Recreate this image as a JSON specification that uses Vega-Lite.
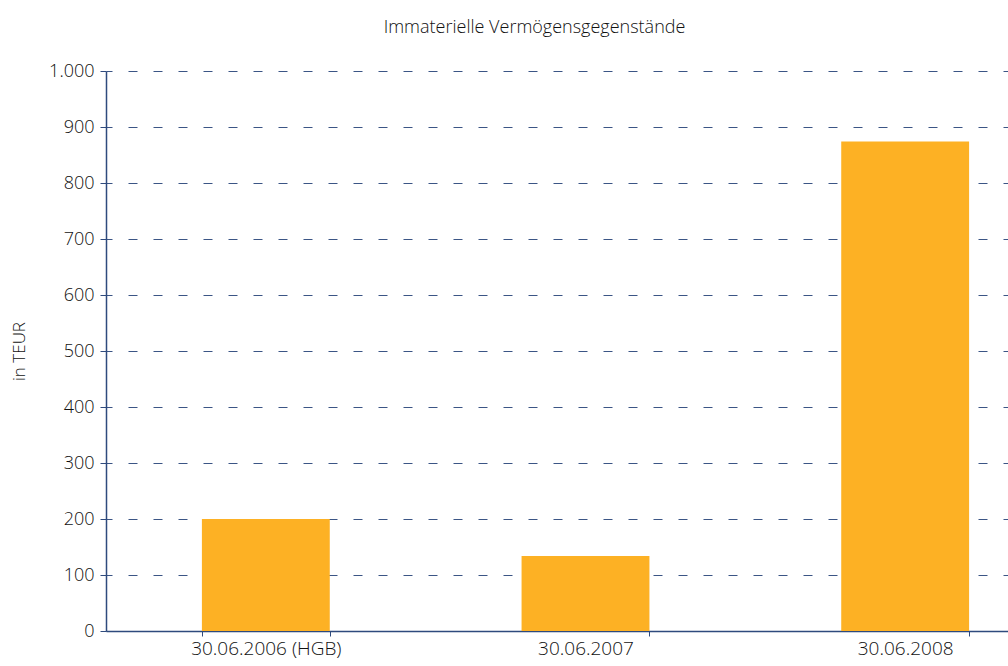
{
  "$schema": "https://vega.github.io/schema/vega-lite/v6.json",
  "autosize": "none",
  "width": 959,
  "height": 560,
  "padding": {"left": 106, "top": 71, "right": 0, "bottom": 35},
  "background": "white",
  "title": {
    "text": "Immaterielle Vermögensgegenstände",
    "anchor": "middle",
    "frame": "group",
    "dx": -51,
    "offset": 25,
    "font": "Open Sans",
    "fontSize": 18,
    "fontWeight": 300,
    "color": "#111111"
  },
  "data": {
    "values": [
      {"stichtag": "30.06.2006 (HGB)", "wert": 200},
      {"stichtag": "30.06.2007", "wert": 134},
      {"stichtag": "30.06.2008", "wert": 874}
    ]
  },
  "mark": {"type": "bar", "color": "#FDB124"},
  "encoding": {
    "x": {
      "field": "stichtag",
      "type": "nominal",
      "sort": null,
      "scale": {"paddingInner": 0.6, "paddingOuter": 0.3},
      "axis": {
        "title": null,
        "labelAngle": 0,
        "tickBand": "extent",
        "domainColor": "#2e4a7d",
        "domainWidth": 1.5,
        "tickColor": "#2e4a7d",
        "tickSize": 5,
        "labelFont": "Open Sans",
        "labelFontSize": 19,
        "labelFontWeight": 300,
        "labelColor": "#111111",
        "labelPadding": 3
      }
    },
    "y": {
      "field": "wert",
      "type": "quantitative",
      "scale": {"domain": [0, 1000], "nice": false},
      "axis": {
        "title": "in TEUR",
        "titleFont": "Open Sans",
        "titleFontSize": 17,
        "titleFontWeight": 300,
        "titleColor": "#111111",
        "titlePadding": 20,
        "values": [0, 100, 200, 300, 400, 500, 600, 700, 800, 900, 1000],
        "labelExpr": "datum.value == 1000 ? '1.000' : datum.label",
        "labelFont": "Open Sans",
        "labelFontSize": 18,
        "labelFontWeight": 300,
        "labelColor": "#111111",
        "labelPadding": 6,
        "domainColor": "#2e4a7d",
        "domainWidth": 1.5,
        "tickColor": "#2e4a7d",
        "tickSize": 6,
        "grid": true,
        "gridColor": "#3b5585",
        "gridDash": [9, 16],
        "gridDashOffset": -22
      }
    }
  },
  "config": {"view": {"stroke": null}}
}
